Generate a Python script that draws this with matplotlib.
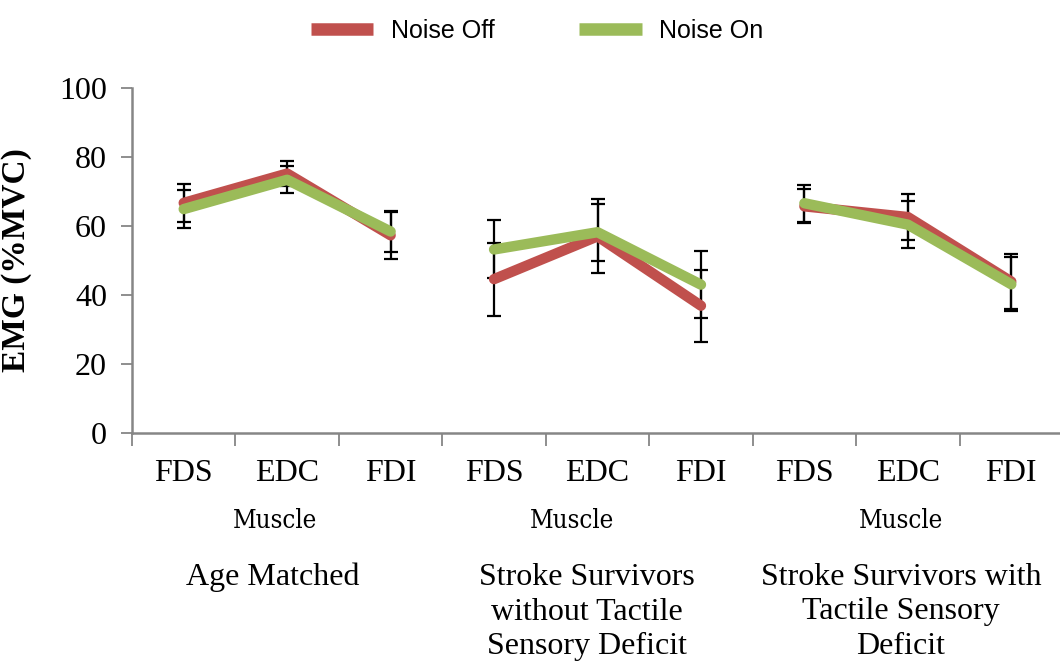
import matplotlib.pyplot as plt
import numpy as np

# data
muscles = ["FDS", "EDC", "FDI"]
groups = ["Age Matched",
          "Stroke Survivors\nwithout Tactile\nSensory Deficit",
          "Stroke Survivors with\nTactile Sensory\nDeficit"]

noise_off = [[66.7, 75.2, 57.3], [44.6, 57.0, 36.9], [65.7, 62.6, 43.9]]
noise_off_err = [[5.6, 3.7, 7.0], [10.6, 10.7, 10.4], [4.9, 6.7, 8.0]]
noise_on = [[64.9, 73.4, 58.4], [53.2, 58.2, 43.0], [66.6, 60.4, 43.1]]
noise_on_err = [[5.6, 3.9, 5.8], [8.4, 8.3, 9.8], [5.3, 6.9, 7.8]]

red = "#C0504D"
green = "#9BBB59"
serif = "Liberation Serif"

W, H = 1060, 664
fig = plt.figure(figsize=(W / 100, H / 100), dpi=100)
ax = fig.add_axes([132 / W, 1 - 433 / H, (1063 - 132) / W, (433 - 88) / H])

for g in range(3):
    x = np.arange(3) + 3 * g
    ax.errorbar(x, noise_off[g], yerr=noise_off_err[g], fmt="none", ecolor="black",
                elinewidth=1.6, capsize=5, capthick=1.6, zorder=2)
    ax.errorbar(x, noise_on[g], yerr=noise_on_err[g], fmt="none", ecolor="black",
                elinewidth=1.6, capsize=5, capthick=1.6, zorder=2)
    ax.plot(x, noise_off[g], color=red, lw=7.5, solid_capstyle="round",
            solid_joinstyle="round", zorder=3, label="Noise Off" if g == 0 else None)
    ax.plot(x, noise_on[g], color=green, lw=7.5, solid_capstyle="round",
            solid_joinstyle="round", zorder=4, label="Noise On" if g == 0 else None)

ax.set_xlim(-0.5, 8.5)
ax.set_ylim(0, 100)
ax.set_yticks(np.arange(0, 101, 20))
ax.set_xticks(np.arange(9))
ax.set_xticklabels(muscles * 3, fontsize=23, family=serif)
ax.set_xticks(np.arange(-0.5, 8.6, 1), minor=True)
ax.tick_params(axis="x", which="major", length=0, pad=19)
ax.tick_params(axis="x", which="minor", length=9, width=1.3, color="#868686")
ax.tick_params(axis="y", length=8, width=1.3, color="#868686", pad=10)
for lbl in ax.get_yticklabels():
    lbl.set_fontsize(23)
    lbl.set_family(serif)

for s in ["top", "right"]:
    ax.spines[s].set_visible(False)
for s in ["left", "bottom"]:
    ax.spines[s].set_color("#868686")
    ax.spines[s].set_linewidth(1.8)

ax.set_ylabel("EMG (%MVC)", fontsize=24, family=serif, fontweight="bold")
ax.yaxis.set_label_coords(-100 / (1063 - 132), 0.5)

for xc in [275, 572, 901]:
    fig.text(xc / W, 1 - 521 / H, "Muscle", fontsize=18.5, family="DejaVu Serif",
             ha="center", va="center", fontstretch="condensed")

for xc, txt in zip([273, 587, 901], groups):
    fig.text(xc / W, 1 - 563 / H, txt, fontsize=23, family=serif,
             ha="center", va="top", linespacing=1.25)

leg = fig.legend(loc="upper center", bbox_to_anchor=(537 / W, 1 + 4 / H), ncol=2,
                 frameon=False, prop={"family": "Liberation Sans", "size": 18},
                 handlelength=2.5, handletextpad=0.7, columnspacing=3.4)
for h in leg.legend_handles:
    h.set_linewidth(9)
    h.set_solid_capstyle("butt")

fig.savefig("out.png", dpi=100)
